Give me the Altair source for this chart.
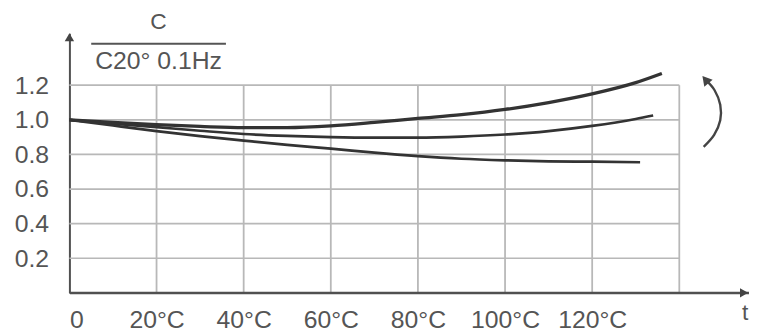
import altair as alt
import pandas as pd

# ---- data ----
top_t = [0, 10, 20, 30, 40, 50, 60, 70, 80, 90, 100, 110, 120, 130, 136]
top_c = [1.0, 0.985, 0.972, 0.962, 0.955, 0.955, 0.965, 0.985, 1.008, 1.03, 1.06, 1.10, 1.15, 1.215, 1.268]
mid_t = [0, 10, 20, 30, 40, 50, 60, 70, 80, 90, 100, 110, 120, 130, 134]
mid_c = [1.0, 0.978, 0.958, 0.937, 0.918, 0.907, 0.90, 0.897, 0.897, 0.903, 0.915, 0.935, 0.965, 1.005, 1.025]
bot_t = [0, 10, 20, 30, 40, 50, 60, 70, 80, 90, 100, 110, 120, 131]
bot_c = [1.0, 0.967, 0.935, 0.906, 0.88, 0.855, 0.834, 0.81, 0.79, 0.775, 0.766, 0.76, 0.758, 0.755]

x_ticks = [0, 20, 40, 60, 80, 100, 120]
y_ticks = [0.2, 0.4, 0.6, 0.8, 1.0, 1.2]
grid_x = [20, 40, 60, 80, 100, 120, 140]
grid_y = [0.2, 0.4, 0.6, 0.8, 1.0, 1.2]

# curved "direction" arrow (annotation path, in data units)
arc_t = [145.6, 148.0, 149.4, 149.4, 148.1, 146.0]
arc_c = [0.844, 0.913, 0.997, 1.087, 1.171, 1.232]

FONT = "Liberation Sans"
TXT = "#555555"
LINE = "#333333"
GRID = "#b8b8b8"
HALF = 0.005  # half thickness of a horizontal grid line, in y units (~0.9 px)

X_DOM = [0, 156]
Y_DOM = [0, 1.5]
xs = alt.Scale(domain=X_DOM, nice=False, zero=False)
ys = alt.Scale(domain=Y_DOM, nice=False, zero=False)

gv = pd.DataFrame({"vx": grid_x, "v0": [0.0] * len(grid_x), "v1": [max(grid_y)] * len(grid_x)})
gh = pd.DataFrame({
    "hy": grid_y,
    "hlo": [g - HALF for g in grid_y],
    "hhi": [g + HALF for g in grid_y],
    "h0": [0.0] * len(grid_y),
    "h1": [float(max(grid_x))] * len(grid_y),
})
base = pd.DataFrame({"by": [0.0], "b0": [0.0], "b1": [float(X_DOM[1])]})
arc_df = pd.DataFrame({"t": arc_t, "c": arc_c, "i": list(range(len(arc_t)))})

x_axis = alt.Axis(
    values=x_ticks,
    labelExpr="datum.value == 0 ? '0' : datum.value + '°C'",
    labelFontSize=25, labelFont=FONT, labelColor=TXT, labelPadding=15,
    ticks=False, grid=False, domain=True, domainColor="#505050", domainWidth=2,
    title=None,
)
y_axis = alt.Axis(
    values=y_ticks, format=".1f",
    labelFontSize=25, labelFont=FONT, labelColor=TXT, labelPadding=21,
    ticks=False, grid=False, domain=True, domainColor="#505050", domainWidth=2,
    title=None,
)

grid_v = alt.Chart(gv).mark_rule(color=GRID, strokeWidth=1.8).encode(
    x=alt.X("vx:Q", scale=xs, axis=x_axis),
    y=alt.Y("v0:Q", scale=ys, axis=y_axis),
    y2="v1:Q",
)
grid_h = alt.Chart(gh).mark_rect(color=GRID, opacity=1).encode(
    x=alt.X("h0:Q", scale=xs),
    x2="h1:Q",
    y=alt.Y("hlo:Q", scale=ys),
    y2="hhi:Q",
)
baseline = alt.Chart(base).mark_rule(color="#505050", strokeWidth=2).encode(
    x=alt.X("b0:Q", scale=xs),
    x2="b1:Q",
    y=alt.Y("by:Q", scale=ys),
)


def curve(ts, cs, w):
    df = pd.DataFrame({"t": ts, "c": cs})
    return alt.Chart(df).mark_line(interpolate="monotone", color=LINE, strokeWidth=w, clip=False).encode(
        x=alt.X("t:Q", scale=xs),
        y=alt.Y("c:Q", scale=ys),
    )


c_top = curve(top_t, top_c, 3.3)
c_mid = curve(mid_t, mid_c, 2.7)
c_bot = curve(bot_t, bot_c, 2.7)

arc = alt.Chart(arc_df).mark_line(interpolate="cardinal", color="#444444", strokeWidth=2.4, clip=False).encode(
    x=alt.X("t:Q", scale=xs),
    y=alt.Y("c:Q", scale=ys),
    order="i:Q",
)
arc_head = alt.Chart(arc_df.tail(1)).mark_point(
    shape="triangle-up", filled=True, size=120, color="#444444", opacity=1, angle=320, clip=False
).encode(x=alt.X("t:Q", scale=xs), y=alt.Y("c:Q", scale=ys))

# axis arrowheads
y_head = alt.Chart(pd.DataFrame({"px": [0], "py": [Y_DOM[1]]})).mark_point(
    shape="triangle-up", filled=True, size=90, color="#444444", opacity=1, clip=False, yOffset=4
).encode(x=alt.X("px:Q", scale=xs), y=alt.Y("py:Q", scale=ys))
x_head = alt.Chart(pd.DataFrame({"px": [X_DOM[1]], "py": [0]})).mark_point(
    shape="triangle-right", filled=True, size=90, color="#444444", opacity=1, clip=False, xOffset=-5
).encode(x=alt.X("px:Q", scale=xs), y=alt.Y("py:Q", scale=ys))

# y-axis title as a fraction
num = alt.Chart(pd.DataFrame({"s": ["C"]})).mark_text(
    font=FONT, fontSize=23, color=TXT, align="center", baseline="middle"
).encode(text="s:N", x=alt.value(90), y=alt.value(-11))
den = alt.Chart(pd.DataFrame({"s": ["C20° 0.1Hz"]})).mark_text(
    font=FONT, fontSize=25, color=TXT, align="center", baseline="middle"
).encode(text="s:N", x=alt.value(90), y=alt.value(28))
bar = alt.Chart(pd.DataFrame({"s": [1]})).mark_rule(color="#555555", strokeWidth=2).encode(
    x=alt.value(22), x2=alt.value(158), y=alt.value(10.5)
)
t_lab = alt.Chart(pd.DataFrame({"s": ["t"]})).mark_text(
    font=FONT, fontSize=23, color=TXT, align="center", baseline="middle"
).encode(text="s:N", x=alt.value(682), y=alt.value(282))

chart = alt.layer(
    grid_v, grid_h, baseline, c_top, c_mid, c_bot, arc, arc_head, y_head, x_head, num, den, bar, t_lab
).properties(
    width=686, height=262,
    autosize=alt.AutoSizeParams(type="none"),
    padding={"left": 62, "top": 24, "right": 0, "bottom": 42},
    background="white",
).configure_view(stroke=None)

chart.save("out.html", embed_options={"renderer": "svg", "actions": False})
